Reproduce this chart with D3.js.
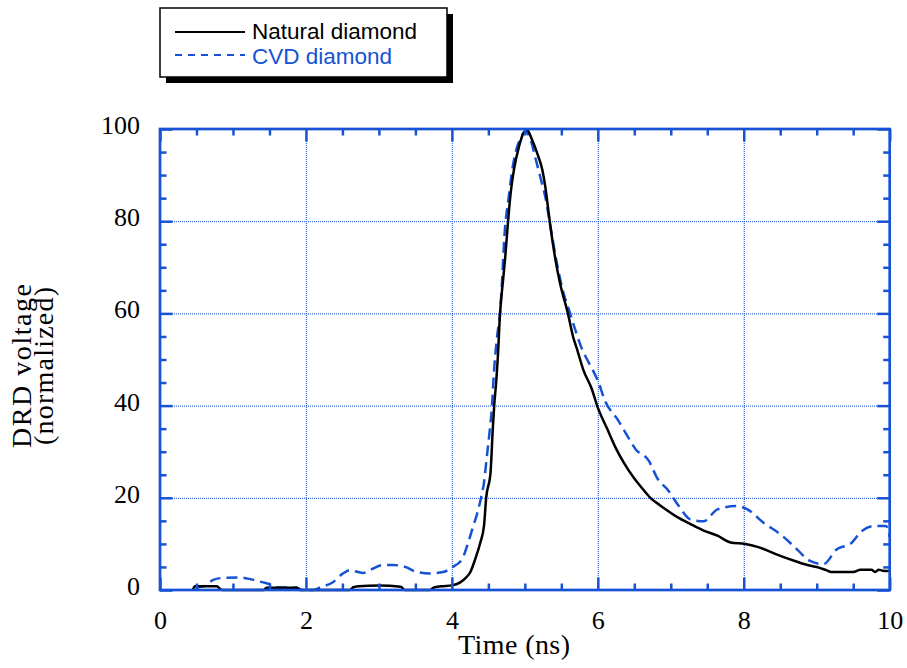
<!DOCTYPE html>
<html>
<head>
<meta charset="utf-8">
<script src="https://cdn.jsdelivr.net/npm/d3@7"></script>
<style>
  body { margin: 0; background: #fff; }
  .tick text { font-family: "Liberation Serif", "Times New Roman", serif; }
</style>
</head>
<body>
<div class="chart"></div>
<script>
// DATA ------------------------------------
// time (ns) and normalized voltage
const naturalTime = [0.45, 0.48, 0.78, 0.82, 0.86, 1.42, 1.46, 1.88, 1.92, 2.6, 2.65, 2.72, 3.0, 3.3, 3.35, 3.7, 3.75, 3.85, 4.0, 4.11, 4.2, 4.25, 4.32, 4.39, 4.44, 4.47, 4.53, 4.56, 4.58, 4.61, 4.63, 4.66, 4.7, 4.73, 4.76, 4.8, 4.85, 4.92, 4.98, 5.03, 5.1, 5.17, 5.24, 5.28, 5.31, 5.35, 5.42, 5.48, 5.59, 5.66, 5.72, 5.8, 5.92, 5.99, 6.13, 6.24, 6.36, 6.49, 6.59, 6.72, 6.86, 7.09, 7.27, 7.45, 7.64, 7.82, 8.02, 8.2, 8.5, 8.7, 8.9, 9.0, 9.13, 9.2, 9.5, 9.6, 9.75, 9.8, 9.85, 9.9, 10];
const naturalVolt = [0, 0.8, 0.8, 0.3, 0, 0, 0.5, 0.5, 0, 0, 0.6, 0.8, 1.0, 0.7, 0, 0, 0.5, 0.8, 1.0, 1.6, 2.8, 3.8, 6.7, 10.3, 13.9, 20, 25.5, 34.8, 40, 45.7, 50.6, 60, 67, 72, 78, 85.3, 91.1, 96.2, 99.1, 99.8, 97.6, 94.7, 91.1, 87.5, 83.9, 78.9, 71.6, 66.7, 60, 55, 52, 47.8, 43.5, 40, 34.9, 31.0, 27.5, 24.4, 22.4, 20, 18.3, 15.8, 14.3, 12.9, 11.8, 10.3, 10.0, 9.3, 7.4, 6.3, 5.3, 5.0, 4.3, 3.9, 3.9, 4.4, 4.4, 3.9, 4.4, 4.2, 4.1];

const cvdTime = [0.5, 0.52, 0.6, 0.73, 0.85, 1.1, 1.25, 1.4, 1.5, 1.6, 1.87, 1.95, 2.1, 2.2, 2.37, 2.5, 2.6, 2.78, 2.9, 3.05, 3.2, 3.38, 3.5, 3.7, 3.88, 4.0, 4.14, 4.21, 4.28, 4.35, 4.4, 4.44, 4.48, 4.52, 4.55, 4.57, 4.62, 4.66, 4.73, 4.78, 4.82, 4.87, 4.94, 5.01, 5.08, 5.14, 5.21, 5.28, 5.35, 5.43, 5.52, 5.62, 5.7, 5.79, 5.83, 6.01, 6.1, 6.27, 6.38, 6.52, 6.7, 6.81, 6.97, 7.11, 7.27, 7.45, 7.64, 7.91, 8.05, 8.27, 8.5, 8.68, 8.91, 9.09, 9.28, 9.46, 9.62, 9.8, 9.95, 10];
const cvdVolt = [0, 0.6, 0.8, 2.2, 2.6, 2.7, 2.3, 1.7, 1.3, 0.6, 0.5, 0, 0, 0.6, 1.7, 3.5, 4.3, 3.7, 4.5, 5.4, 5.4, 4.9, 4.0, 3.6, 3.9, 4.9, 6.7, 9.6, 13.2, 16.8, 20, 23.3, 29.1, 34.8, 39.9, 45.7, 55, 60, 78.9, 85.3, 90.4, 94.7, 98, 99.4, 97.6, 94, 89.7, 85.3, 78.9, 71.6, 65, 60, 56, 52, 50.7, 45, 41, 37, 34.1, 30.5, 28, 24.4, 21.5, 18.2, 15.3, 14.9, 17.5, 18.2, 17.5, 14.6, 12.1, 9.6, 6.3, 5.6, 8.9, 10.0, 12.8, 13.9, 13.9, 11.5];

const xMajor = [0, 2, 4, 6, 8, 10];
const yMajor = [0, 20, 40, 60, 80, 100];
const legendLabels = ['Natural diamond', 'CVD diamond'];

// CHART INIT ------------------------------
const blue = '#1552d4';
const margin = { top: 129, left: 160 };

const svg = d3
  .select('.chart')
  .append('svg')
  .attr('width', 907)
  .attr('height', 668);

const group = svg
  .append('g')
  .attr('transform', 'translate(' + margin.left + ',' + margin.top + ')');

const xScale = d3.scaleLinear().domain([0, 10]).range([0, 729.7]);
const yScale = d3.scaleLinear().domain([0, 100]).range([461, 0]);
const w = xScale.range()[1];
const h = yScale.range()[0];

const xMinor = d3.range(0, 10.01, 0.5).filter((d) => d % 2 !== 0);
const yMinor = d3.range(0, 100.1, 5).filter((d) => d % 20 !== 0);

// dotted grid
group.append('g')
  .attr('class', 'grid')
  .attr('transform', 'translate(0,' + h + ')')
  .call(d3.axisBottom(xScale).tickValues([2, 4, 6, 8]).tickSize(-h).tickFormat(''));
group.append('g')
  .attr('class', 'grid')
  .call(d3.axisLeft(yScale).tickValues([20, 40, 60, 80]).tickSize(-w).tickFormat(''));
group.selectAll('.grid .domain').remove();
group.selectAll('.grid line')
  .attr('stroke', blue)
  .attr('stroke-opacity', 0.85)
  .attr('stroke-width', 1.3)
  .attr('stroke-dasharray', '1,1');

// lines
const line = d3.line()
  .x((d) => xScale(d[0]))
  .y((d) => yScale(d[1]))
  .curve(d3.curveMonotoneX);

group.append('path')
  .datum(cvdTime.map((t, i) => [t, cvdVolt[i]]))
  .attr('fill', 'none')
  .attr('stroke', blue)
  .attr('stroke-width', 2.5)
  .attr('stroke-dasharray', '11,6')
  .attr('d', line);

group.append('path')
  .datum(naturalTime.map((t, i) => [t, naturalVolt[i]]))
  .attr('fill', 'none')
  .attr('stroke', '#000')
  .attr('stroke-width', 2.5)
  .attr('stroke-linejoin', 'round')
  .attr('d', line);

// ticks on all four sides, pointing in
function ticks(axis, values, size, tr) {
  const g = group.append('g')
    .attr('class', 'frame-axis')
    .attr('transform', tr || null)
    .call(axis.tickValues(values).tickSize(size).tickFormat(''));
  g.select('.domain').remove();
  g.selectAll('line').attr('stroke', blue).attr('stroke-width', 2.5);
  return g;
}
ticks(d3.axisBottom(xScale), xMinor, -6.5, 'translate(0,' + h + ')');
ticks(d3.axisTop(xScale), xMinor, -6.5);
ticks(d3.axisTop(xScale), xMajor, -12.5);
ticks(d3.axisLeft(yScale), yMinor, -6.5);
ticks(d3.axisRight(yScale), yMinor, -6.5, 'translate(' + w + ',0)');
ticks(d3.axisRight(yScale), yMajor, -12.5, 'translate(' + w + ',0)');

// labelled axes
const xAxisGroup = group.append('g')
  .attr('transform', 'translate(0,' + h + ')')
  .call(d3.axisBottom(xScale).tickValues(xMajor).tickSize(-12.5).tickPadding(21));
const yAxisGroup = group.append('g')
  .call(d3.axisLeft(yScale).tickValues(yMajor).tickSize(-12.5).tickPadding(20));
[xAxisGroup, yAxisGroup].forEach((g) => {
  g.select('.domain').remove();
  g.selectAll('line').attr('stroke', blue).attr('stroke-width', 2.5);
  g.selectAll('text').attr('fill', '#000').attr('font-size', 26);
});
yAxisGroup.selectAll('text').attr('dy', '0.17em');

// frame on top
group.append('rect')
  .attr('width', w)
  .attr('height', h)
  .attr('fill', 'none')
  .attr('stroke', blue)
  .attr('stroke-width', 2.7);

// axis titles
svg.append('text')
  .attr('x', 514)
  .attr('y', 654)
  .attr('text-anchor', 'middle')
  .attr('font-family', '"Liberation Serif", serif')
  .attr('font-size', 28)
  .attr('textLength', 112)
  .attr('lengthAdjust', 'spacing')
  .text('Time (ns)');

const yTitle = svg.append('g')
  .attr('transform', 'translate(0,366) rotate(-90)')
  .attr('font-family', '"Liberation Serif", serif')
  .attr('font-size', 28)
  .attr('text-anchor', 'middle');
yTitle.append('text').attr('x', 0).attr('y', 31)
  .attr('textLength', 164).attr('lengthAdjust', 'spacing').text('DRD voltage');
yTitle.append('text').attr('x', 0).attr('y', 53)
  .attr('textLength', 158).attr('lengthAdjust', 'spacing').text('(normalized)');

// legend
const legend = svg.append('g');
legend.append('rect')
  .attr('x', 166).attr('y', 14).attr('width', 287).attr('height', 69)
  .attr('fill', '#000');
legend.append('rect')
  .attr('x', 160).attr('y', 8).attr('width', 287).attr('height', 69)
  .attr('fill', '#fff').attr('stroke', '#000').attr('stroke-width', 1.5);
legend.append('line')
  .attr('x1', 175).attr('x2', 245).attr('y1', 32).attr('y2', 32)
  .attr('stroke', '#000').attr('stroke-width', 2);
legend.append('line')
  .attr('x1', 175).attr('x2', 245).attr('y1', 55).attr('y2', 55)
  .attr('stroke', blue).attr('stroke-width', 2).attr('stroke-dasharray', '7,6');
legend.selectAll('text.lab')
  .data(legendLabels)
  .enter()
  .append('text')
  .attr('class', 'lab')
  .attr('x', 252)
  .attr('y', (d, i) => 38.5 + i * 25)
  .attr('font-family', '"Liberation Sans", Arial, sans-serif')
  .attr('font-size', 22.5)
  .attr('fill', (d, i) => (i === 0 ? '#000' : blue))
  .text((d) => d);
</script>
</body>
</html>
